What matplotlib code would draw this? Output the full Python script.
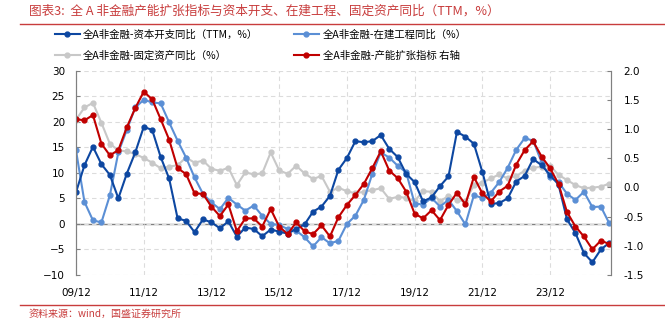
import numpy as np
import matplotlib
matplotlib.use("Agg")
import matplotlib.pyplot as plt
from matplotlib.lines import Line2D

plt.rcParams['font.family'] = ['Noto Sans CJK SC', 'DejaVu Sans']

# quarterly, 2009/12 .. 2025/09
tick_labels = ['09/12', '11/12', '13/12', '15/12', '17/12', '19/12', '21/12', '23/12']

capex_yoy = [6.2, 11.5, 15.1, 11.7, 9.6, 5.0, 9.85, 14.0, 19.0, 18.4, 13.1, 8.9,
             1.1, 0.6, -1.6, 0.9, 0.3, -0.85, 0.5, -2.5, -0.7, -1.0, -2.4, -1.1,
             -1.5, -1.9, -1.0, -0.1, 2.4, 3.4, 5.5, 10.6, 12.9, 16.2, 16.0, 16.2,
             17.4, 14.7, 13.1, 9.8, 8.2, 4.4, 5.2, 7.4, 9.3, 18.0, 17.1, 15.7,
             10.2, 3.9, 4.1, 5.0, 8.3, 9.4, 12.7, 11.5, 9.6, 7.7, 0.9, -1.8,
             -5.7, -7.5, -5.0, -3.7]

cip_yoy = [14.4, 4.3, 0.7, 0.3, 5.6, 14.0, 18.4, 22.8, 24.3, 23.8, 23.6, 19.9,
           16.3, 13.0, 9.1, 5.9, 4.2, 2.9, 5.1, 3.8, 2.6, 3.6, 1.6, 0.0,
           -0.2, -1.0, -1.3, -2.6, -4.4, -2.6, -3.8, -3.3, 0.0, 1.6, 4.7, 9.8,
           14.0, 13.0, 11.4, 10.1, 4.0, 3.8, 5.1, 3.4, 4.7, 2.5, -0.1, 5.6,
           5.1, 6.1, 8.2, 11.0, 14.5, 16.8, 16.3, 12.1, 9.1, 8.2, 5.9, 4.7,
           6.3, 3.3, 3.4, 0.1]

fixed_yoy = [20.4, 22.8, 23.7, 19.8, 15.7, 14.4, 14.2, 13.7, 12.9, 12.0, 10.9, 11.2,
             11.5, 13.0, 12.0, 12.4, 10.8, 10.4, 11.0, 7.6, 10.1, 9.7, 9.9, 14.0,
             10.5, 9.8, 11.4, 9.9, 8.8, 9.4, 6.3, 7.1, 6.4, 6.0, 6.3, 6.6,
             7.0, 4.9, 5.3, 5.1, 4.5, 6.4, 6.3, 4.4, 5.5, 4.7, 4.4, 7.6,
             8.1, 8.9, 9.7, 8.9, 9.4, 10.4, 11.0, 11.2, 11.4, 9.6, 8.6, 7.6,
             7.0, 7.1, 7.3, 7.9]

expansion_idx = [1.17, 1.15, 1.24, 0.75, 0.55, 0.64, 1.03, 1.36, 1.64, 1.51, 1.17, 0.82,
                 0.33, 0.23, -0.10, -0.11, -0.33, -0.49, -0.29, -0.75, -0.53, -0.53, -0.67, -0.37,
                 -0.67, -0.80, -0.60, -0.75, -0.80, -0.65, -0.84, -0.51, -0.30, -0.13, 0.06, 0.33,
                 0.62, 0.29, 0.16, -0.07, -0.45, -0.53, -0.39, -0.56, -0.30, -0.09, -0.29, 0.18,
                 -0.10, -0.24, -0.07, 0.03, 0.39, 0.64, 0.79, 0.53, 0.33, 0.06, -0.42, -0.67,
                 -0.84, -1.06, -0.91, -0.97]

names = ['全A非金融-资本开支同比（TTM，%）', '全A非金融-在建工程同比（%）',
         '全A非金融-固定资产同比（%）', '全A非金融-产能扩张指标 右轴']
colors = ['#0D47A1', '#5B8FD5', '#C8C8C8', '#C00000']

x = np.arange(len(capex_yoy))

fig = plt.figure(figsize=(6.65, 3.26), dpi=100)
ax = fig.add_axes([0.1143, 0.1564, 0.8045, 0.6267])
ax2 = ax.twinx()

kw = dict(lw=1.5, marker='o', markersize=3.5)
l3, = ax.plot(x, fixed_yoy, color=colors[2], **kw)
l2, = ax.plot(x, cip_yoy, color=colors[1], **kw)
l1, = ax.plot(x, capex_yoy, color=colors[0], **kw)
l4, = ax2.plot(x, expansion_idx, color=colors[3], **kw)
ax.set_zorder(ax2.get_zorder() - 1)
ax.patch.set_visible(True)
ax2.patch.set_visible(False)

ax.set_xlim(0, 63.2)
ax.set_ylim(-10, 30)
ax2.set_ylim(-1.5, 2.0)
ax.set_yticks(range(-10, 31, 5))
ax2.set_yticks(np.arange(-1.5, 2.01, 0.5))
ax2.set_yticklabels([f'{v:.1f}' for v in np.arange(-1.5, 2.01, 0.5)])
ax.set_xticks(range(0, 64, 8))
ax.set_xticklabels(tick_labels)

ax.axhline(0, color='#808080', lw=1, zorder=1)
ax.grid(True, color='#DCDCDC', ls=(0, (4, 3)), lw=0.8)

for a in (ax, ax2):
    for s in ('top', 'bottom'):
        a.spines[s].set_visible(False)
    a.spines['left'].set_color('#808080')
    a.spines['right'].set_color('#808080')
    for lab in a.get_yticklabels() + a.get_xticklabels():
        lab.set_fontfamily('DejaVu Sans')
ax.tick_params(axis='y', direction='in', length=3, color='#808080', labelsize=7.5, pad=8)
ax2.tick_params(axis='y', direction='in', length=3, color='#808080', labelsize=7.5, pad=9)
ax.tick_params(axis='x', length=0, labelsize=7.5, pad=9)

fig.legend([l1, l3, l2, l4], [names[0], names[2], names[1], names[3]],
           ncol=2, loc='upper left', bbox_to_anchor=(0.068, 0.938), frameon=False,
           prop={'size': 7.5, 'weight': 'light'}, handlelength=2.4, columnspacing=3.4,
           labelspacing=1.05, handletextpad=0.35)

red = '#C83C3C'
fig.text(0.043, 0.965, '图表3:  全 A 非金融产能扩张指标与资本开支、在建工程、固定资产同比（TTM，%）',
         color=red, fontsize=9.1, style='italic', va='center')
fig.add_artist(Line2D([0.03, 1.0], [0.926, 0.926], color=red, lw=1))
fig.add_artist(Line2D([0.03, 1.0], [0.064, 0.064], color=red, lw=1))
fig.text(0.043, 0.037, '资料来源：wind，国盛证券研究所', color=red, fontsize=7.2,
         style='italic', va='center')

fig.savefig('out.png', dpi=100)
